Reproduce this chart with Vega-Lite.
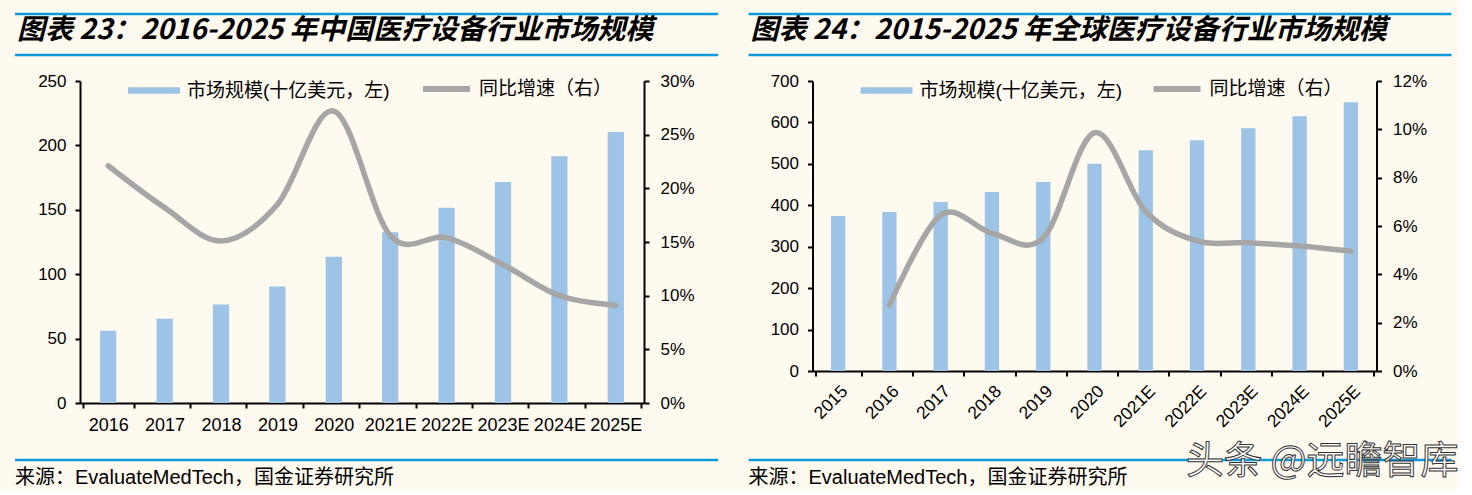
{
  "$schema": "https://vega.github.io/schema/vega-lite/v6.json",
  "background": "#FFFAF0",
  "padding": {"left": 13, "top": 12, "right": 0, "bottom": 0},
  "config": {
    "view": {"stroke": null},
    "font": "Liberation Sans, Noto Sans CJK SC",
    "axis": {
      "domainColor": "#000000", "domainWidth": 2,
      "tickColor": "#000000", "tickWidth": 2, "tickSize": 5,
      "labelColor": "#000000", "labelFont": "Liberation Sans", "labelFontSize": 17,
      "grid": false, "title": null
    },
    "legend": {"padding": 0, "title": null, "labelFont": "Liberation Sans, Noto Sans CJK SC", "labelFontSize": 19, "labelColor": "#000000", "labelLimit": 500}
  },
  "hconcat": [
    {
      "spacing": 5,
      "vconcat": [
        {
          "width": 638, "height": 41,
          "layer": [
            {
              "data": {"values": [{"p": 0, "a": -65, "b": 638}, {"p": 1, "a": -65, "b": 638}]},
              "mark": {"type": "rule", "color": "#0D9BDB", "strokeWidth": 2.5},
              "encoding": {
                "y": {"field": "p", "type": "quantitative", "scale": {"domain": [0, 1]}, "axis": null},
                "x": {"field": "a", "type": "quantitative", "scale": {"domain": [0, 638]}, "axis": null},
                "x2": {"field": "b"}
              }
            },
            {
              "data": {"values": [{"t": "图表 23：2016-2025 年中国医疗设备行业市场规模", "a": -65}]},
              "mark": {"type": "text", "align": "left", "baseline": "middle", "font": "Noto Sans CJK SC", "fontSize": 28, "fontWeight": "bold", "fontStyle": "italic", "dx": 2, "color": "#000000"},
              "encoding": {
                "text": {"field": "t"},
                "x": {"field": "a", "type": "quantitative", "scale": {"domain": [0, 638]}, "axis": null},
                "y": {"datum": 0.59, "type": "quantitative", "axis": null}
              }
            }
          ]
        },
        {
          "spacing": 24,
          "vconcat": [
            {
              "width": 564, "height": 322,
              "data": {"values": [
                {"year": "2016", "size": 56, "growth": 0.221},
                {"year": "2017", "size": 65.5, "growth": 0.182},
                {"year": "2018", "size": 76.5, "growth": 0.151},
                {"year": "2019", "size": 90.5, "growth": 0.185},
                {"year": "2020", "size": 113.5, "growth": 0.272},
                {"year": "2021E", "size": 132.5, "growth": 0.156},
                {"year": "2022E", "size": 151.5, "growth": 0.154},
                {"year": "2023E", "size": 171.5, "growth": 0.129},
                {"year": "2024E", "size": 191.5, "growth": 0.100},
                {"year": "2025E", "size": 210.5, "growth": 0.091}
              ]},
              "layer": [
                {
                  "mark": {"type": "bar", "width": {"band": 0.32}},
                  "encoding": {
                    "x": {"field": "year", "type": "ordinal", "sort": null,
                      "axis": {"labelAngle": 0, "labelFontSize": 18, "labelPadding": 8, "tickBand": "extent", "labelOverlap": false, "labelBound": false}},
                    "y": {"field": "size", "type": "quantitative", "scale": {"domain": [0, 250]},
                      "axis": {"orient": "left", "values": [0, 50, 100, 150, 200, 250], "labelPadding": 9}},
                    "fill": {"datum": "市场规模(十亿美元，左)", "type": "nominal", "scale": {"range": ["#9DC3E6"]},
                      "legend": {"orient": "none", "legendX": 61, "legendY": -3.5, "symbolType": "M-2,-0.25H2V0.25H-2Z", "symbolSize": 676, "symbolStrokeWidth": 0, "labelOffset": 20}}
                  }
                },
                {
                  "mark": {"type": "line", "interpolate": "cardinal", "strokeWidth": 5.5, "strokeCap": "round"},
                  "encoding": {
                    "x": {"field": "year", "type": "ordinal", "sort": null},
                    "y": {"field": "growth", "type": "quantitative", "scale": {"domain": [0, 0.3]},
                      "axis": {"orient": "right", "format": ".0%", "values": [0, 0.05, 0.1, 0.15, 0.2, 0.25, 0.3], "labelPadding": 11}},
                    "stroke": {"datum": "同比增速（右）", "type": "nominal", "scale": {"range": ["#A6A6A6"]},
                      "legend": {"orient": "none", "legendX": 340, "legendY": -18.5, "symbolType": "stroke", "symbolSize": 2209, "symbolStrokeWidth": 6, "labelOffset": 6}}
                  }
                }
              ],
              "resolve": {"scale": {"y": "independent", "fill": "independent", "stroke": "independent"}}
            },
            {
              "width": 638, "height": 30,
              "layer": [
                {
                  "data": {"values": [{"p": 1, "a": -65, "b": 638}]},
                  "mark": {"type": "rule", "color": "#0D9BDB", "strokeWidth": 2.5},
                  "encoding": {
                    "y": {"field": "p", "type": "quantitative", "scale": {"domain": [0, 1]}, "axis": null},
                    "x": {"field": "a", "type": "quantitative", "scale": {"domain": [0, 638]}, "axis": null},
                    "x2": {"field": "b"}
                  }
                },
                {
                  "data": {"values": [{"t": "来源：EvaluateMedTech，国金证券研究所", "a": -65}]},
                  "mark": {"type": "text", "align": "left", "baseline": "middle", "fontSize": 20, "color": "#000000"},
                  "encoding": {
                    "text": {"field": "t"},
                    "x": {"field": "a", "type": "quantitative", "scale": {"domain": [0, 638]}, "axis": null},
                    "y": {"datum": 0.4, "type": "quantitative", "axis": null}
                  }
                }
              ]
            }
          ]
        }
      ]
    },
    {
      "spacing": 5,
      "vconcat": [
        {
          "width": 639, "height": 41,
          "layer": [
            {
              "data": {"values": [{"p": 0, "a": -64, "b": 639}, {"p": 1, "a": -64, "b": 639}]},
              "mark": {"type": "rule", "color": "#0D9BDB", "strokeWidth": 2.5},
              "encoding": {
                "y": {"field": "p", "type": "quantitative", "scale": {"domain": [0, 1]}, "axis": null},
                "x": {"field": "a", "type": "quantitative", "scale": {"domain": [0, 639]}, "axis": null},
                "x2": {"field": "b"}
              }
            },
            {
              "data": {"values": [{"t": "图表 24：2015-2025 年全球医疗设备行业市场规模", "a": -64}]},
              "mark": {"type": "text", "align": "left", "baseline": "middle", "font": "Noto Sans CJK SC", "fontSize": 28, "fontWeight": "bold", "fontStyle": "italic", "dx": 2, "color": "#000000"},
              "encoding": {
                "text": {"field": "t"},
                "x": {"field": "a", "type": "quantitative", "scale": {"domain": [0, 639]}, "axis": null},
                "y": {"datum": 0.59, "type": "quantitative", "axis": null}
              }
            }
          ]
        },
        {
          "spacing": 11,
          "vconcat": [
            {
              "width": 564, "height": 290,
              "data": {"values": [
                {"year": "2015", "size": 374, "growth": null},
                {"year": "2016", "size": 384, "growth": 0.0272},
                {"year": "2017", "size": 408, "growth": 0.0645},
                {"year": "2018", "size": 432, "growth": 0.057},
                {"year": "2019", "size": 456, "growth": 0.055},
                {"year": "2020", "size": 500, "growth": 0.0986},
                {"year": "2021E", "size": 533, "growth": 0.066},
                {"year": "2022E", "size": 557, "growth": 0.0538},
                {"year": "2023E", "size": 586, "growth": 0.0531},
                {"year": "2024E", "size": 615, "growth": 0.0517},
                {"year": "2025E", "size": 649, "growth": 0.0496}
              ]},
              "layer": [
                {
                  "mark": {"type": "bar", "width": {"band": 0.31}},
                  "encoding": {
                    "x": {"field": "year", "type": "ordinal", "sort": null,
                      "axis": {"labelAngle": -45, "labelAlign": "right", "labelBaseline": "top", "labelFontSize": 17.5, "labelPadding": 6, "tickBand": "extent", "labelOverlap": false, "labelBound": false}},
                    "y": {"field": "size", "type": "quantitative", "scale": {"domain": [0, 700]},
                      "axis": {"orient": "left", "values": [0, 100, 200, 300, 400, 500, 600, 700], "labelPadding": 9}},
                    "fill": {"datum": "市场规模(十亿美元，左)", "type": "nominal", "scale": {"range": ["#9DC3E6"]},
                      "legend": {"orient": "none", "legendX": 61, "legendY": -3.5, "symbolType": "M-2,-0.25H2V0.25H-2Z", "symbolSize": 676, "symbolStrokeWidth": 0, "labelOffset": 20}}
                  }
                },
                {
                  "mark": {"type": "line", "interpolate": "cardinal", "strokeWidth": 5.5, "strokeCap": "round"},
                  "encoding": {
                    "x": {"field": "year", "type": "ordinal", "sort": null},
                    "y": {"field": "growth", "type": "quantitative", "scale": {"domain": [0, 0.12]},
                      "axis": {"orient": "right", "format": ".0%", "values": [0, 0.02, 0.04, 0.06, 0.08, 0.1, 0.12], "labelPadding": 11}},
                    "stroke": {"datum": "同比增速（右）", "type": "nominal", "scale": {"range": ["#A6A6A6"]},
                      "legend": {"orient": "none", "legendX": 338, "legendY": -18.5, "symbolType": "stroke", "symbolSize": 2209, "symbolStrokeWidth": 6, "labelOffset": 6}}
                  }
                }
              ],
              "resolve": {"scale": {"y": "independent", "fill": "independent", "stroke": "independent"}}
            },
            {
              "width": 639, "height": 30,
              "layer": [
                {
                  "data": {"values": [{"p": 1, "a": -64, "b": 639}]},
                  "mark": {"type": "rule", "color": "#0D9BDB", "strokeWidth": 2.5},
                  "encoding": {
                    "y": {"field": "p", "type": "quantitative", "scale": {"domain": [0, 1]}, "axis": null},
                    "x": {"field": "a", "type": "quantitative", "scale": {"domain": [0, 639]}, "axis": null},
                    "x2": {"field": "b"}
                  }
                },
                {
                  "data": {"values": [{"t": "来源：EvaluateMedTech，国金证券研究所", "a": -64}]},
                  "mark": {"type": "text", "align": "left", "baseline": "middle", "fontSize": 20, "color": "#000000"},
                  "encoding": {
                    "text": {"field": "t"},
                    "x": {"field": "a", "type": "quantitative", "scale": {"domain": [0, 639]}, "axis": null},
                    "y": {"datum": 0.4, "type": "quantitative", "axis": null}
                  }
                },
                {
                  "data": {"values": [{"t": "头条 @远瞻智库", "a": 646}]},
                  "mark": {"type": "text", "align": "right", "baseline": "middle", "font": "Noto Sans CJK SC", "fontSize": 38, "color": "#FFFFFF", "stroke": "#333333", "strokeWidth": 1},
                  "encoding": {
                    "text": {"field": "t"},
                    "x": {"field": "a", "type": "quantitative", "scale": {"domain": [0, 639]}, "axis": null},
                    "y": {"datum": 0.95, "type": "quantitative", "axis": null}
                  }
                }
              ]
            }
          ]
        }
      ]
    }
  ],
  "spacing": 26.5
}
